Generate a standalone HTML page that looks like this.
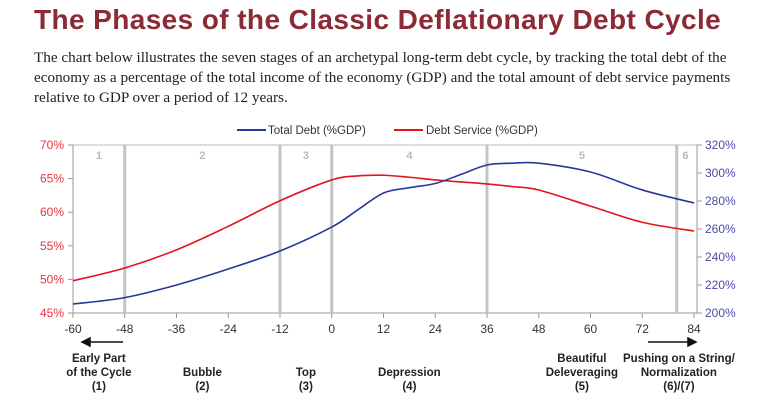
<!DOCTYPE html>
<html><head><meta charset="utf-8"><style>
body{margin:0;width:778px;height:408px;background:#fff;overflow:hidden;font-family:"Liberation Sans",sans-serif}
#title{position:absolute;left:34px;top:4px;font-size:28px;font-weight:bold;color:#8c2a36;letter-spacing:0.4px;white-space:nowrap}
#desc{position:absolute;left:34px;top:48px;width:730px;font-family:"Liberation Serif",serif;font-size:15.2px;line-height:20px;color:#222}
svg{position:absolute;left:0;top:0}
</style></head><body>
<div id="title">The Phases of the Classic Deflationary Debt Cycle</div>
<div id="desc">The chart below illustrates the seven stages of an archetypal long-term debt cycle, by tracking the total debt of the economy as a percentage of the total income of the economy (GDP) and the total amount of debt service payments relative to GDP over a period of 12 years.</div>
<svg id="c" width="778" height="408"></svg>
<script>
const months=[-60,-48,-36,-24,-12,0,6,12,18,24,30,36,42,48,60,72,84];
const debtService=[49.8,51.7,54.4,57.9,61.7,64.8,65.4,65.5,65.2,64.8,64.5,64.2,63.8,63.3,60.9,58.5,57.2];
const totalDebt=[206.4,211,220,231.4,244.3,261.4,273.6,285.7,289.5,292.5,299,305.7,307,307,300.7,287.9,278.6];
const xTicks=[-60,-48,-36,-24,-12,0,12,24,36,48,60,72,84];
const leftTicks=[45,50,55,60,65,70];
const rightTicks=[200,220,240,260,280,300,320];
const phaseLines=[-48,-12,0,36,80];
const phaseNums=[["1",-54],["2",-30],["3",-6],["4",18],["5",58],["6",82]];
const phaseLabels=[[["Early Part","of the Cycle","(1)"],-54],[["Bubble","(2)"],-30],[["Top","(3)"],-6],[["Depression","(4)"],18],[["Beautiful","Deleveraging","(5)"],58],[["Pushing on a String/","Normalization","(6)/(7)"],80.5]];
const L=73,R=694,T=145,B=313;
const x=m=>L+(m+60)*(R-L)/144;
const yl=v=>B-(v-45)*(B-T)/25;
const yr=v=>B-(v-200)*(B-T)/120;
const s=document.getElementById('c');const NS="http://www.w3.org/2000/svg";
function mk(t,a,txt){const e=document.createElementNS(NS,t);for(const k in a)e.setAttribute(k,a[k]);if(txt!=null)e.textContent=txt;s.appendChild(e);return e;}
function smooth(pts){let d=`M${pts[0][0]},${pts[0][1]}`;for(let i=0;i<pts.length-1;i++){const p0=pts[i-1]||pts[i],p1=pts[i],p2=pts[i+1],p3=pts[i+2]||p2;d+=` C${p1[0]+(p2[0]-p0[0])/6},${p1[1]+(p2[1]-p0[1])/6} ${p2[0]-(p3[0]-p1[0])/6},${p2[1]-(p3[1]-p1[1])/6} ${p2[0]},${p2[1]}`;}return d;}
let e=mk('line',{x1:L,y1:T,x2:697,y2:T,stroke:'#bbb','stroke-width':1});
e=mk('line',{x1:L,y1:T,x2:L,y2:B,stroke:'#999'});
e=mk('line',{x1:697,y1:T,x2:697,y2:B,stroke:'#999'});
e=mk('line',{x1:L,y1:B,x2:697,y2:B,stroke:'#999'});
phaseLines.forEach(m=>{const l=mk('line',{x1:x(m),y1:T,x2:x(m),y2:B,stroke:'#c4c4c4','stroke-width':3});
});
phaseNums.forEach(([n,m])=>{const t=mk('text',{x:x(m),y:159,'text-anchor':'middle','font-size':11,'font-weight':'bold',fill:'#bbb'},n);
});
xTicks.forEach(m=>{const l=mk('line',{x1:x(m),y1:B,x2:x(m),y2:B+5,stroke:'#999'});
const t=mk('text',{x:x(m),y:333,'text-anchor':'middle','font-size':12,fill:'#333'},String(m));});
leftTicks.forEach(v=>{const l=mk('line',{x1:L-5,y1:yl(v),x2:L,y2:yl(v),stroke:'#999'});
const t=mk('text',{x:64,y:yl(v)+4,'text-anchor':'end','font-size':12,fill:'#e8333f'},v+'%');});
rightTicks.forEach(v=>{const l=mk('line',{x1:697,y1:yr(v),x2:702,y2:yr(v),stroke:'#999'});
const t=mk('text',{x:705,y:yr(v)+4,'font-size':12,fill:'#4a4aa8'},v+'%');});
e=mk('path',{d:smooth(months.map((m,i)=>[x(m),yl(debtService[i])])),fill:'none',stroke:'#e3141f','stroke-width':1.6});
e=mk('path',{d:smooth(months.map((m,i)=>[x(m),yr(totalDebt[i])])),fill:'none',stroke:'#26399a','stroke-width':1.6});
e=mk('line',{x1:237,y1:130,x2:266,y2:130,stroke:'#26399a','stroke-width':2});
e=mk('text',{x:268,y:134,'font-size':11.5,fill:'#333'},'Total Debt (%GDP)');
e=mk('line',{x1:394,y1:130,x2:423,y2:130,stroke:'#e3141f','stroke-width':2});
e=mk('text',{x:426,y:134,'font-size':11.5,fill:'#333'},'Debt Service (%GDP)');
e=mk('path',{d:'M123,342 L82,342 M82,342 L90,338 L90,346 Z',stroke:'#111','stroke-width':1.5,fill:'#111'});
e=mk('path',{d:'M648,342 L696,342 M696,342 L688,338 L688,346 Z',stroke:'#111','stroke-width':1.5,fill:'#111'});
phaseLabels.forEach(([lines,m])=>{const n=lines.length;lines.forEach((ln,i)=>{const y=390-(n-1-i)*14;
const t=mk('text',{x:x(m),y:y,'text-anchor':'middle','font-size':11.5,'font-weight':'bold',fill:'#222'},ln);
});});
</script>
</body></html>
